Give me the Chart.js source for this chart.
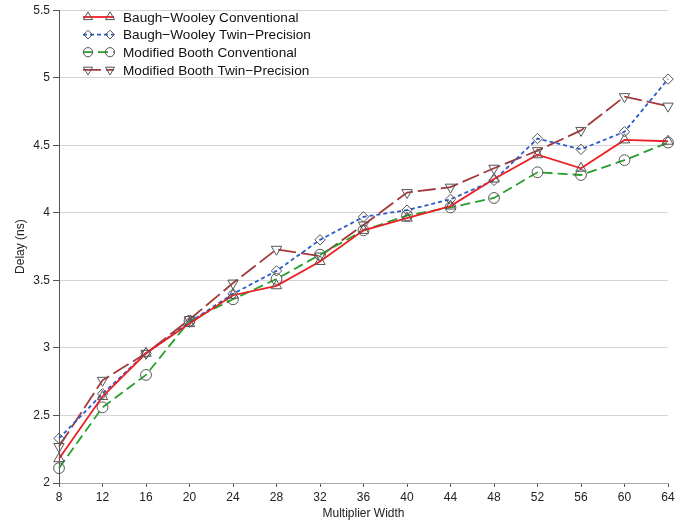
<!DOCTYPE html>
<html>
<head>
<meta charset="utf-8">
<script src="https://cdn.jsdelivr.net/npm/chart.js@4/dist/chart.umd.min.js"></script>
<style>
  html, body { margin: 0; padding: 0; background: #fff; }
  #wrap { width: 688px; height: 525px; }
</style>
</head>
<body>
<div id="wrap"><canvas id="chart" width="688" height="525"></canvas></div>
<script>
// multiplier widths (x axis)
const widths = [8, 12, 16, 20, 24, 28, 32, 36, 40, 44, 48, 52, 56, 60, 64];

// delay in ns
const bwConventional = [2.18, 2.64, 2.96, 3.18, 3.39, 3.46, 3.64, 3.87, 3.96, 4.05, 4.25, 4.43, 4.33, 4.54, 4.53];
const bwTwin         = [2.33, 2.66, 2.96, 3.19, 3.40, 3.57, 3.80, 3.97, 4.02, 4.10, 4.24, 4.55, 4.47, 4.60, 4.99];
const mbConventional = [2.11, 2.56, 2.80, 3.20, 3.36, 3.51, 3.69, 3.87, 3.98, 4.04, 4.11, 4.30, 4.28, 4.39, 4.52];
const mbTwin         = [2.27, 2.76, 2.96, 3.21, 3.48, 3.73, 3.68, 3.91, 4.15, 4.19, 4.33, 4.46, 4.61, 4.86, 4.79];

const seriesNames = [
    'Baugh\u2212Wooley Conventional',
    'Baugh\u2212Wooley Twin\u2212Precision',
    'Modified Booth Conventional',
    'Modified Booth Twin\u2212Precision'
];

const FONT = '"Liberation Sans", Arial, Helvetica, sans-serif';
const markerColor = '#555555';

function makeSet(label, data, color, dash, pointStyle, rotation, radius) {
    return {
        label: label,
        data: data,
        borderColor: color,
        borderWidth: 1.8,
        borderDash: dash,
        fill: false,
        tension: 0,
        pointStyle: pointStyle,
        rotation: rotation,
        pointRadius: radius,
        pointHoverRadius: radius,
        pointBorderColor: markerColor,
        pointBorderWidth: 1,
        pointBackgroundColor: 'rgba(0,0,0,0)'
    };
}

// legend drawn inside the plot, line sample with a marker at both ends
const insideLegend = {
    id: 'insideLegend',
    afterDraw(chart) {
        const ctx = chart.ctx;
        const x0 = 88, x1 = 110, textX = 123, y0 = 17, rowH = 17.6;
        ctx.save();
        chart.data.datasets.forEach((ds, i) => {
            const y = y0 + i * rowH;
            ctx.beginPath();
            ctx.setLineDash(ds.borderDash || []);
            ctx.strokeStyle = ds.borderColor;
            ctx.lineWidth = ds.borderWidth;
            ctx.moveTo(83, y);
            ctx.lineTo(114, y);
            ctx.stroke();
            ctx.setLineDash([]);
            const opts = {
                pointStyle: ds.pointStyle,
                rotation: ds.rotation,
                radius: ds.pointRadius - 0.8,
                borderWidth: 1
            };
            ctx.strokeStyle = markerColor;
            ctx.fillStyle = 'rgba(0,0,0,0)';
            ctx.lineWidth = 1;
            Chart.helpers.drawPoint(ctx, opts, x0, y);
            Chart.helpers.drawPoint(ctx, opts, x1, y);
            ctx.fillStyle = '#111';
            ctx.font = '13.6px ' + FONT;
            ctx.textBaseline = 'middle';
            ctx.textAlign = 'left';
            ctx.fillText(ds.label, textX, y + 1);
        });
        ctx.restore();
    }
};

const ctx = document.getElementById('chart').getContext('2d');
new Chart(ctx, {
    type: 'line',
    data: {
        labels: widths,
        datasets: [
            makeSet(seriesNames[0], bwConventional, '#ec2024', [], 'triangle', 0, 6),
            makeSet(seriesNames[1], bwTwin, '#2a5bc9', [4, 3], 'rectRot', 0, 5.2),
            makeSet(seriesNames[2], mbConventional, '#26a02a', [10, 5], 'circle', 0, 5.4),
            makeSet(seriesNames[3], mbTwin, '#a33a3a', [18, 5], 'triangle', 180, 6)
        ]
    },
    options: {
        responsive: false,
        animation: false,
        devicePixelRatio: 1,
        layout: { padding: { left: 0, right: 20, top: 10, bottom: 0 } },
        plugins: {
            legend: { display: false },
            tooltip: { enabled: false }
        },
        scales: {
            x: {
                type: 'category',
                offset: false,
                grid: {
                    drawOnChartArea: false,
                    drawTicks: true,
                    tickLength: 4,
                    tickColor: '#555'
                },
                border: { color: '#aaa' },
                ticks: {
                    color: '#222',
                    padding: 3,
                    maxRotation: 0,
                    autoSkip: false,
                    font: { family: FONT, size: 12 }
                },
                title: {
                    display: true,
                    text: 'Multiplier Width',
                    color: '#222',
                    padding: { top: 4, bottom: 4 },
                    font: { family: FONT, size: 12 }
                },
                afterFit(scale) { scale.height = 42; }
            },
            y: {
                min: 2,
                max: 5.5,
                ticks: {
                    stepSize: 0.5,
                    color: '#222',
                    padding: 3,
                    font: { family: FONT, size: 12 },
                    callback: v => String(v)
                },
                grid: {
                    color: '#d4d4d4',
                    lineWidth: 1,
                    tickLength: 6,
                    tickColor: '#555'
                },
                border: { color: '#555' },
                title: {
                    display: true,
                    text: 'Delay (ns)',
                    color: '#222',
                    padding: { top: 13, bottom: 0 },
                    font: { family: FONT, size: 12 }
                },
                afterFit(scale) { scale.width = 59; }
            }
        }
    },
    plugins: [insideLegend]
});
</script>
</body>
</html>
